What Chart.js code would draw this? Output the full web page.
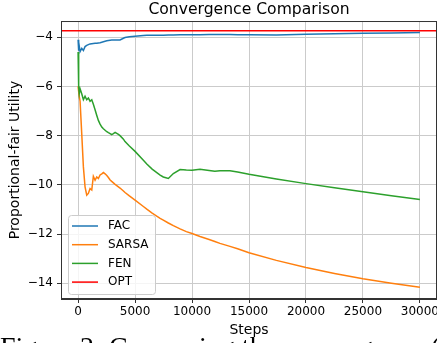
<html>
  <head>
    <meta charset="utf-8" />
    <title>Convergence Comparison</title>
    <style>
      body { margin: 0; background: #fff; }
      #wrap { position: relative; width: 437px; height: 343px; overflow: hidden; }
      #caption {
        position: absolute; left: 0; top: 333px;
        font: 28px "Liberation Serif", serif; line-height: 28px;
        white-space: nowrap; color: #000;
      }
    </style>
  </head>
  <body>
    <div id="wrap">
      <canvas id="chart" width="437" height="343"></canvas>
      <div id="caption">Figure 2: Comparing the convergence (</div>
    </div>

    <script src="https://cdn.jsdelivr.net/npm/chart.js"></script>
    <script>
      // steps shared by FAC / SARSA / FEN
      var steps = [0, 50, 100, 175, 320, 465, 610, 760, 900, 1050, 1200, 1340, 1490, 1640, 1780, 1930,
        2080, 2220, 2370, 2520, 2660, 2810, 2950, 3100, 3250, 3540, 3680, 3980, 4120, 4500, 5000,
        5730, 6030, 6500, 7200, 7480, 7920, 8360, 8950, 9500, 10000, 10700, 11500, 12000, 12450,
        13330, 14000, 15000, 17400, 20000, 22500, 25000, 27500, 30000];

      var fac = [-4.10, -4.55, -4.35, -4.58, -4.45, -4.54, -4.38, -4.33, -4.30, -4.27, -4.26, -4.25,
        -4.24, -4.24, -4.23, -4.22, -4.20, -4.18, -4.16, -4.14, -4.13, -4.12, -4.11, -4.11, -4.11,
        -4.11, -4.11, -4.04, -4.01, -3.98, -3.96, -3.93, -3.92, -3.92, -3.92, -3.92, -3.91, -3.91,
        -3.90, -3.90, -3.90, -3.90, -3.89, -3.89, -3.89, -3.89, -3.90, -3.90, -3.91, -3.88, -3.86,
        -3.84, -3.83, -3.81];

      var sarsa = [-6.0, -6.2, -6.4, -6.6, -7.92, -9.27, -10.08, -10.42, -10.35, -10.15, -10.21, -9.65,
        -9.81, -9.68, -9.74, -9.60, -9.55, -9.50, -9.55, -9.62, -9.70, -9.80, -9.86, -9.92, -9.98,
        -10.08, -10.13, -10.25, -10.31, -10.45, -10.62, -10.88, -10.99, -11.15, -11.36, -11.43,
        -11.55, -11.66, -11.79, -11.90, -11.98, -12.10, -12.22, -12.30, -12.38, -12.50, -12.60,
        -12.76, -13.07, -13.36, -13.60, -13.82, -14.00, -14.16];

      var fen = [-4.6, -6.0, -6.3, -6.1, -6.3, -6.54, -6.40, -6.54, -6.47, -6.60, -6.54, -6.72, -6.95,
        -7.18, -7.38, -7.53, -7.65, -7.72, -7.78, -7.84, -7.88, -7.92, -7.96, -7.92, -7.87, -7.95,
        -8.00, -8.14, -8.24, -8.42, -8.64, -9.00, -9.15, -9.36, -9.60, -9.68, -9.74, -9.54, -9.38,
        -9.40, -9.41, -9.37, -9.42, -9.45, -9.43, -9.43, -9.48, -9.57, -9.76, -9.95, -10.12,
        -10.28, -10.44, -10.60];

      // OPT is a horizontal line across the whole axis
      var optSteps = [-1500, 31500];
      var opt = [-3.74, -3.74];

      var xTicks = [0, 5000, 10000, 15000, 20000, 25000, 30000];
      var yTicks = [-14, -12, -10, -8, -6, -4];

      function pts(xs, ys) {
        return xs.map(function (x, i) { return { x: x, y: ys[i] }; });
      }

      Chart.defaults.font.family = "'DejaVu Sans'";
      Chart.defaults.color = "#000";

      // top/right spines + legend drawn inside the plot
      var framePlugin = {
        id: "frame",
        afterDatasetsDraw: function (chart) {
          var a = chart.chartArea, c = chart.ctx;
          c.save();
          c.strokeStyle = "#333";
          c.lineWidth = 1;
          c.strokeRect(a.left + 0.5, a.top + 0.5, a.right - a.left - 1, a.bottom - a.top - 1);

          // legend
          var bx = 68, by = 215, bw = 87, bh = 79;
          c.beginPath();
          c.roundRect(bx + 0.5, by + 0.5, bw, bh, 3);
          c.fillStyle = "rgba(255,255,255,0.8)";
          c.fill();
          c.strokeStyle = "#cccccc";
          c.stroke();
          c.font = "12px 'DejaVu Sans'";
          c.textBaseline = "middle";
          chart.data.datasets.forEach(function (ds, i) {
            var y = 226 + i * 18.7;
            c.strokeStyle = ds.borderColor;
            c.lineWidth = 1.5;
            c.beginPath();
            c.moveTo(72, y);
            c.lineTo(98, y);
            c.stroke();
            c.fillStyle = "#000";
            c.fillText(ds.label, 108, y);
          });
          c.restore();
        },
      };

      var ctx = document.getElementById("chart").getContext("2d");
      var chart = new Chart(ctx, {
        type: "line",
        data: {
          datasets: [
            { label: "FAC", data: pts(steps, fac), borderColor: "#1f77b4", order: 4 },
            { label: "SARSA", data: pts(steps, sarsa), borderColor: "#ff7f0e", order: 3 },
            { label: "FEN", data: pts(steps, fen), borderColor: "#2ca02c", order: 2 },
            { label: "OPT", data: pts(optSteps, opt), borderColor: "#ff0000", order: 1 },
          ],
        },
        options: {
          responsive: false,
          animation: false,
          devicePixelRatio: 1,
          layout: { padding: 0 },
          elements: {
            line: { borderWidth: 1.5, tension: 0 },
            point: { radius: 0 },
          },
          plugins: {
            legend: { display: false },
            tooltip: { enabled: false },
            title: {
              display: true,
              text: "Convergence Comparison",
              fullSize: false,
              font: { size: 15.6, weight: "normal" },
              padding: { top: 1, bottom: 1.3 },
              color: "#000",
            },
          },
          scales: {
            x: {
              type: "linear",
              min: -1500,
              max: 31500,
              afterBuildTicks: function (s) {
                s.ticks = xTicks.map(function (v) { return { value: v }; });
              },
              afterFit: function (s) {
                s.height = 44;
                s.paddingLeft = 0;
                s.paddingRight = 0;
              },
              ticks: {
                autoSkip: false,
                maxRotation: 0,
                padding: 2,
                font: { size: 12 },
                callback: function (v) { return String(v); },
              },
              grid: { color: "#cbcbcb", lineWidth: 1, tickColor: "#333", tickLength: 4 },
              border: { color: "#333", width: 1 },
              title: {
                display: true,
                text: "Steps",
                font: { size: 14 },
                padding: { top: 0, bottom: 4.5 },
              },
            },
            y: {
              type: "linear",
              min: -14.64,
              max: -3.34,
              afterBuildTicks: function (s) {
                s.ticks = yTicks.map(function (v) { return { value: v }; });
              },
              afterFit: function (s) {
                s.width = 61;
                s.paddingTop = 0;
                s.paddingBottom = 0;
              },
              ticks: {
                autoSkip: false,
                padding: 4,
                font: { size: 12 },
                callback: function (v) { return String(v).replace("-", "\u2212"); },
              },
              grid: { color: "#cbcbcb", lineWidth: 1, tickColor: "#333", tickLength: 4 },
              border: { color: "#333", width: 1 },
              title: {
                display: true,
                text: "Proportional-fair Utility",
                font: { size: 14 },
                padding: { top: 6.5, bottom: 0 },
              },
            },
          },
        },
        plugins: [framePlugin],
      });
    </script>
  </body>
</html>
